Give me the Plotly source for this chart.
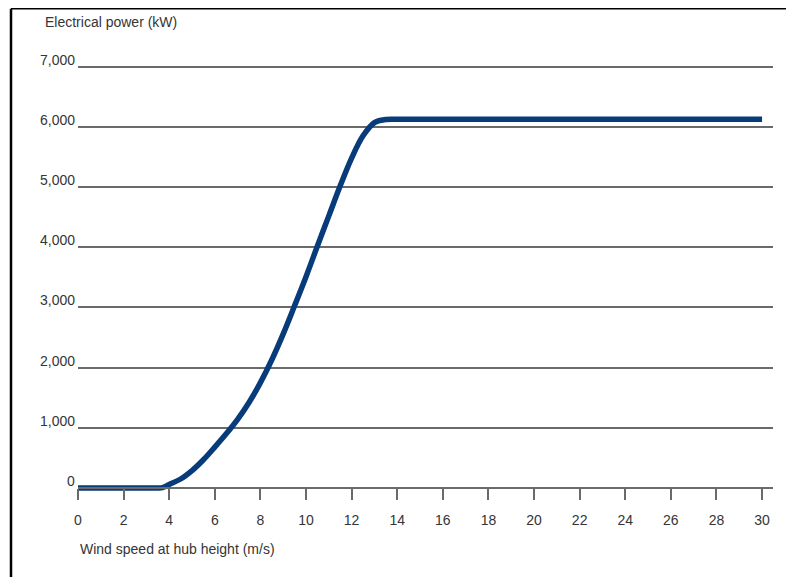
import plotly.graph_objects as go

# Data
wind_speed = [0, 1, 2, 3, 3.5, 3.7, 4, 4.5, 5, 5.5, 6, 6.5, 7, 7.5, 8, 8.5, 9, 9.5,
              10, 10.5, 11, 11.5, 12, 12.5, 13, 13.5, 14, 16, 20, 25, 30]
power_kw = [0, 0, 0, 0, 0, 8, 60, 150, 290, 470, 680, 900, 1140, 1420, 1750, 2130,
            2560, 3030, 3510, 4020, 4520, 5020, 5480, 5850, 6070, 6120, 6125, 6125,
            6125, 6125, 6125]

y_ticks = [0, 1000, 2000, 3000, 4000, 5000, 6000, 7000]
y_tick_labels = ["0", "1,000", "2,000", "3,000", "4,000", "5,000", "6,000", "7,000"]
x_ticks = list(range(0, 31, 2))

x_title = "Wind speed at hub height (m/s)"
y_title = "Electrical power (kW)"

FONT = "Liberation Sans, Arial, Helvetica, sans-serif"
TEXT_COLOR = "#353535"
GRID_COLOR = "#6a6a6a"

fig = go.Figure()
fig.add_trace(go.Scatter(
    x=wind_speed, y=power_kw, mode="lines",
    line=dict(color="#073b79", width=5.5, shape="spline", smoothing=1.0),
    hoverinfo="x+y", showlegend=False,
))

# page is offset by the browser's 8px body margin
W, H = 786, 569
L, R, T, B = 70, 21, 56, 82
plot_w = W - L - R
plot_h = H - T - B

fig.update_layout(
    width=W, height=H,
    margin=dict(l=L, r=R, t=T, b=B, pad=0),
    paper_bgcolor="white", plot_bgcolor="white",
    font=dict(family=FONT, size=14, color=TEXT_COLOR),
    xaxis=dict(
        range=[0, 30.48], tickvals=x_ticks, ticktext=[str(v) for v in x_ticks],
        showgrid=False, zeroline=False,
        showline=True, linecolor=GRID_COLOR, linewidth=1.5,
        ticks="outside", ticklen=11, tickwidth=1.5, tickcolor=GRID_COLOR,
        ticklabelstandoff=8,
        anchor="free", position=7 / plot_h,
        tickfont=dict(family=FONT, size=14, color=TEXT_COLOR),
    ),
    yaxis=dict(
        range=[-116, 7043], tickvals=y_ticks, showticklabels=False,
        showgrid=True, gridcolor=GRID_COLOR, gridwidth=1.5,
        zeroline=False, showline=False, ticks="",
    ),
)

# y tick labels sitting on top of their gridlines
for v, lab in zip(y_ticks, y_tick_labels):
    fig.add_annotation(
        x=0, xref="paper", y=v, yref="y", text=lab, showarrow=False,
        xanchor="right", yanchor="bottom", xshift=-1, yshift=-3,
        font=dict(family=FONT, size=14, color=TEXT_COLOR),
    )

# axis titles
fig.add_annotation(
    x=(35 - L) / plot_w, xref="paper", y=(H - B - 14) / plot_h, yref="paper",
    text=y_title, showarrow=False, xanchor="left", yanchor="middle",
    font=dict(family=FONT, size=14, color=TEXT_COLOR),
)
fig.add_annotation(
    x=0, xref="paper", y=(H - B - 541) / plot_h, yref="paper",
    text=x_title, showarrow=False, xanchor="left", yanchor="middle",
    font=dict(family=FONT, size=14, color=TEXT_COLOR),
)

# frame (left and top edges)
fx = (3 - L) / plot_w
fy = (H - B - 0.75) / plot_h
fig.add_shape(type="line", xref="paper", yref="paper", x0=fx, x1=fx,
              y0=fy, y1=(H - B - H - 5) / plot_h, line=dict(color="black", width=2.5))
fig.add_shape(type="line", xref="paper", yref="paper", x0=fx, x1=(W + 5 - L) / plot_w,
              y0=fy, y1=fy, line=dict(color="black", width=1.5))

fig.write_html("out.html")
